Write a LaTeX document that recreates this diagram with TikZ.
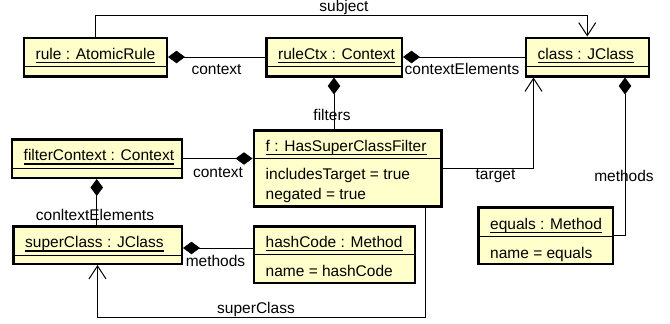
\documentclass[tikz,border=0pt]{standalone}
\usepackage{fontspec}
\setmainfont{Liberation Sans}
\usetikzlibrary{arrows.meta}
\definecolor{objfill}{RGB}{255,255,204}
\tikzset{
	objbox/.style={draw=black,line width=2.5pt,fill=objfill,inner sep=0pt},
	divline/.style={line width=1pt},
	objtitle/.style={anchor=base west,inner sep=0pt},
	attr/.style={anchor=base west,inner sep=0pt},
	uline/.style={line width=1.6pt},
	lbl/.style={anchor=base,inner sep=0pt},
	comp/.style={line width=1pt,{Diamond[length=17pt,width=12.5pt]}-},
	assoc/.style={line width=1pt,-{Straight Barb[length=13pt,width=17pt]}},
}
% object box: name, left, top, right, bottom, divider, title
\newcommand{\umlobj}[7]{%
	\node[objbox,minimum width=#4-#2-2.5,minimum height=#5-#3-2.5] (#1) at ({(#2+#4)/2},{(#3+#5)/2}) {};
	\draw[divline] (#2,#6) -- (#4,#6);
	\node[objtitle] (#1-title) at (#2+13,#6-7.5) {#7};
	\draw[uline] ([yshift=-3.5pt]#1-title.base west) -- ([yshift=-3.5pt]#1-title.base east);
}
\begin{document}
\begin{tikzpicture}[x=1pt,y=-1pt,font=\fontsize{15.5}{18}\selectfont]
	\useasboundingbox (0,0) rectangle (670,324);
	\umlobj{rule}{22.5}{36.5}{168}{77.5}{66.5}{rule : AtomicRule}
	\umlobj{ruleCtx}{265}{36.5}{403}{77.5}{66.5}{ruleCtx : Context}
	\umlobj{class}{524.5}{36.5}{650}{77.5}{66.5}{class : JClass}
	\umlobj{filterContext}{10.5}{138}{183}{179}{168}{filterContext : Context}
	\umlobj{f}{252.5}{129}{442.5}{207.5}{158.5}{f : HasSuperClassFilter}
	\umlobj{superClass}{12}{225}{183}{265}{255}{superClass : JClass}
	\umlobj{hashCode}{252.5}{225}{416}{284}{254.5}{hashCode : Method}
	\umlobj{equals}{477}{206}{614}{265}{236.5}{equals : Method}
	\node[attr] (f-inc) at (265.5,179.5) {includesTarget = true};
	\node[attr] (f-neg) at (265.5,199.5) {negated = true};
	\node[attr] (hashCode-name) at (265.5,276) {name = hashCode};
	\node[attr] (equals-name) at (490,258) {name = equals};

	\draw[assoc] (rule.north) -- ++(0,-21) -| (class.north);
	\draw[comp] (rule.east) -- (ruleCtx.west);
	\draw[comp] (ruleCtx.east) -- (class.west);
	\draw[comp] (ruleCtx.south) -- (ruleCtx.south |- f.north);
	\draw[assoc] (f.east) -| ([xshift=-53.75pt]class.south);
	\draw[comp] ([xshift=37.75pt]class.south) |- (equals.east);
	\draw[comp] (f.west |- filterContext.east) -- (filterContext.east);
	\draw[comp] (filterContext.south) -- (filterContext.south |- superClass.north);
	\draw[comp] ([yshift=-3pt]superClass.east) -- ([yshift=-3pt]superClass.east -| hashCode.west);
	\draw[assoc] ([xshift=78pt]f.south) -- ++(0,109.5) -| (superClass.south);

	\node[lbl] (l-subject) at (344,12) {subject};
	\node[lbl] (l-context) at (216.5,74) {context};
	\node[lbl] (l-elements) at (462,74) {contextElements};
	\node[lbl] (l-filters) at (332,120) {filters};
	\node[lbl] (l-fcontext) at (218,177) {context};
	\node[lbl] (l-target) at (495.5,179) {target};
	\node[lbl] (l-methods) at (624,181) {methods};
	\node[lbl] (l-felements) at (95,220) {conltextElements};
	\node[lbl] (l-hmethods) at (215.5,266.5) {methods};
	\node[lbl] (l-superclass) at (256,313) {superClass};
\end{tikzpicture}
\end{document}
